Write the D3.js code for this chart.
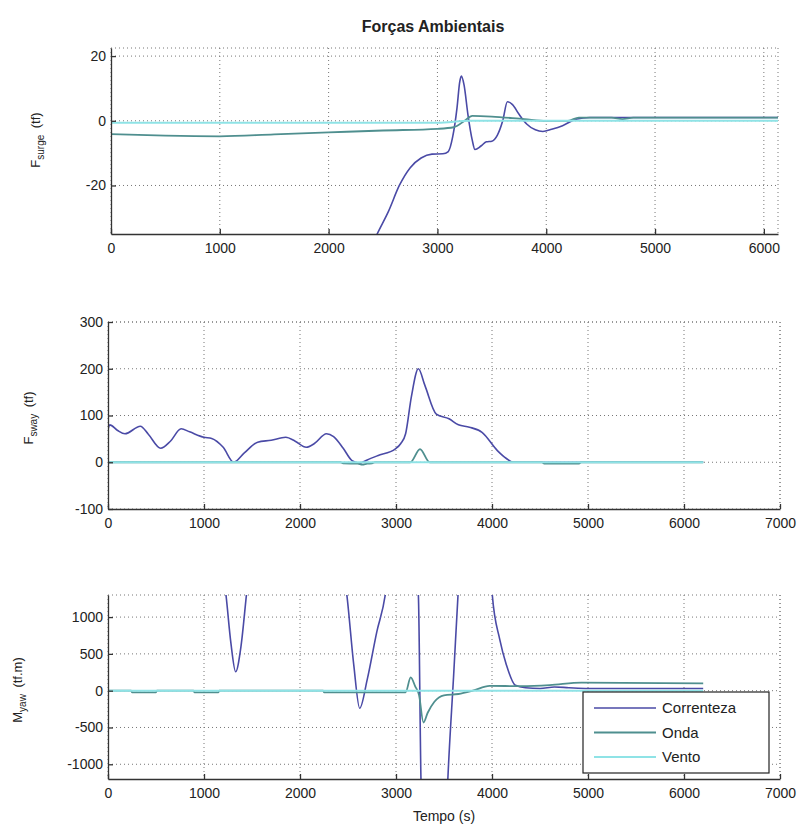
<!DOCTYPE html>
<html>
<head>
<meta charset="utf-8">
<script src="https://cdn.jsdelivr.net/npm/d3@7"></script>
<style>
  body { margin: 0; background: #fff; }
  text { font-family: "Liberation Sans", Arial, sans-serif; fill: #222; }
  .grid line { stroke: #777; stroke-width: 1; stroke-dasharray: 1,3; }
  .axis path, .axis line { stroke: #333; stroke-width: 1.3; }
  .axis text { font-size: 14px; fill: #222; }
  .lineCor { fill: none; stroke: #4a4aa6; stroke-width: 1.6; }
  .lineOnd { fill: none; stroke: #4f8f8f; stroke-width: 1.8; }
  .lineVen { fill: none; stroke: #8fe3e6; stroke-width: 2; }
</style>
</head>
<body>
<div id="graph"></div>
<script>

// Tempo (s) and values for each panel / series
var surgeCorT = [0, 1500, 2200, 2446, 2550, 2650, 2750, 2850, 2950, 3050, 3100, 3140, 3180, 3205, 3220, 3245, 3280, 3320, 3345, 3400, 3450, 3500, 3550, 3600, 3643, 3690, 3750, 3820, 3900, 3969, 4050, 4150, 4275, 4400, 6130];
var surgeCor  = [-120, -90, -55, -35, -28, -20, -14.5, -11.5, -10.3, -10.2, -9.5, -5, 4, 12, 13.8, 11, 2, -6, -8.9, -7.8, -6.5, -6.3, -4.5, 0, 5.9, 5, 2, -1, -2.8, -3.3, -2.6, -1.5, 0.5, 1, 1];

var surgeOndT = [0, 500, 1000, 1500, 2000, 2500, 3000, 3150, 3250, 3320, 3500, 3800, 4000, 4200, 4300, 4600, 4700, 4800, 6130];
var surgeOnd  = [-4.1, -4.6, -4.8, -4.2, -3.6, -3.0, -2.5, -2.0, 0, 1.5, 1.3, 0.5, 0, 0, 1, 1, 0.5, 1, 1];

var surgeVenT = [0, 3000, 3300, 6130];
var surgeVen  = [-0.6, -0.6, 0, 0];

var swayCorT = [0, 18, 100, 177, 337, 420, 549, 650, 762, 850, 1000, 1080, 1200, 1309, 1420, 1559, 1700, 1851, 1950, 2065, 2150, 2276, 2350, 2450, 2542, 2622, 2700, 2808, 2994, 3050, 3100, 3160, 3233, 3300, 3420, 3552, 3650, 3765, 3896, 4056, 4150, 4217, 6200];
var swayCor  = [70, 80, 68, 61, 77, 60, 30, 45, 71.5, 65, 53.5, 51, 32, 0, 20, 43, 47, 53.5, 45, 32, 40, 61, 55, 30, 3.6, -2, 5, 14, 28.6, 40, 61, 140, 200, 165, 103, 93, 80, 75, 64, 25, 8, 0, 0];

var swayOndT = [0, 2420, 2450, 2600, 2650, 2700, 2750, 2780, 3150, 3250, 3350, 4520, 4550, 4900, 4930, 6200];
var swayOnd  = [0, 0, -2.5, -3, -5, -3, -2.5, 0, 0, 28, 0, 0, -3, -3, 0, 0];

var swayVenT = [0, 6200];
var swayVen  = [0, 0];

var yawCorT = [0, 1000, 1150, 1229, 1280, 1330, 1385, 1442, 1500, 2400, 2488, 2560, 2622, 2700, 2800, 2888, 2950, 3150, 3233, 3260, 3300, 3500, 3540, 3600, 3646, 3700, 3950, 4003, 4080, 4150, 4243, 4349, 4500, 4650, 4800, 5000, 6200];
var yawCor  = [2500, 2400, 2000, 1300, 650, 258, 600, 1300, 2000, 2000, 1300, 350, -239, 150, 800, 1300, 2000, 2500, 1300, -1200, -2500, -2500, -1200, 200, 1300, 2500, 2500, 1300, 700, 350, 73, 40, 30, 50, 40, 30, 30];

var yawOndT = [0, 240, 250, 500, 510, 890, 900, 1150, 1160, 2240, 2250, 3100, 3153, 3200, 3240, 3286, 3330, 3400, 3499, 3650, 3800, 3975, 4300, 4600, 4933, 6200];
var yawOnd  = [0, 0, -22, -22, 0, 0, -22, -22, 0, 0, -22, -22, 180, 60, -60, -432, -300, -150, -64, -45, 0, 65, 62, 75, 110, 100];

var yawVenT = [0, 6200];
var yawVen  = [0, 0];

var xTicks1 = [0, 1000, 2000, 3000, 4000, 5000, 6000];
var xTicks23 = [0, 1000, 2000, 3000, 4000, 5000, 6000, 7000];
var yTicks1 = [-20, 0, 20];
var yTicks2 = [-100, 0, 100, 200, 300];
var yTicks3 = [-1000, -500, 0, 500, 1000];

var legendNames = ["Correnteza", "Onda", "Vento"];
var legendClass = ["lineCor", "lineOnd", "lineVen"];

function zip(t, v) {
    return t.map(function(d, i) { return {t: d, v: v[i]}; });
}

// matlab style labels, plain hyphen for minus
function fmt(d) { return String(d); }

var svg = d3.select("#graph").append("svg")
    .attr("width", 801)
    .attr("height", 829);

function drawPanel(p) {
    var xScale = d3.scaleLinear().domain(p.xDomain).range([p.left, p.right]);
    var yScale = d3.scaleLinear().domain(p.yDomain).range([p.bottom, p.top]);

    var g = svg.append("g");

    // grid (dotted)
    var grid = g.append("g").attr("class", "grid");
    grid.selectAll(".vx").data(p.xTicks).enter().append("line")
        .attr("x1", function(d) { return xScale(d); })
        .attr("x2", function(d) { return xScale(d); })
        .attr("y1", p.top).attr("y2", p.bottom);
    grid.selectAll(".hy").data(p.yTicks).enter().append("line")
        .attr("x1", p.left).attr("x2", p.right)
        .attr("y1", function(d) { return yScale(d); })
        .attr("y2", function(d) { return yScale(d); });
    // edges of the box are dotted too
    grid.append("line").attr("x1", p.left).attr("x2", p.right).attr("y1", p.top).attr("y2", p.top);
    grid.append("line").attr("x1", p.right).attr("x2", p.right).attr("y1", p.top).attr("y2", p.bottom);

    // clip so lines stay inside the axes
    svg.append("clipPath").attr("id", p.id + "clip")
        .append("rect")
        .attr("x", p.left).attr("y", p.top)
        .attr("width", p.right - p.left).attr("height", p.bottom - p.top);

    var line = d3.line()
        .x(function(d) { return xScale(d.t); })
        .y(function(d) { return yScale(d.v); })
        .curve(d3.curveMonotoneX);

    var lines = g.append("g").attr("clip-path", "url(#" + p.id + "clip)");
    p.series.forEach(function(s) {
        lines.append("path")
            .datum(s.data)
            .attr("class", s.cls)
            .attr("d", line);
    });

    // axes, ticks pointing inward
    g.append("g")
        .attr("class", "axis")
        .attr("transform", "translate(0," + p.bottom + ")")
        .call(d3.axisBottom(xScale).tickValues(p.xTicks).tickSize(-5).tickPadding(9).tickSizeOuter(0).tickFormat(fmt));

    g.append("g")
        .attr("class", "axis")
        .attr("transform", "translate(" + p.left + ",0)")
        .call(d3.axisLeft(yScale).tickValues(p.yTicks).tickSize(-5).tickPadding(5).tickSizeOuter(0).tickFormat(fmt));

    // y label with subscript
    var lab = svg.append("text")
        .attr("transform", "translate(" + p.labelX + "," + p.labelY + ") rotate(-90)")
        .attr("text-anchor", "middle")
        .style("font-size", "13px");
    lab.append("tspan").text(p.labelMain);
    lab.append("tspan").attr("dy", 4).style("font-size", "10px").text(p.labelSub);
    lab.append("tspan").attr("dy", -4).text("\u2002" + p.labelUnit);

    return {x: xScale, y: yScale};
}

drawPanel({
    id: "p1", left: 111, right: 778, top: 48, bottom: 234,
    xDomain: [0, 6130], yDomain: [-35, 22.5],
    xTicks: xTicks1, yTicks: yTicks1,
    labelX: 40, labelY: 140, labelMain: "F", labelSub: "surge", labelUnit: "(tf)",
    series: [
        {cls: "lineCor", data: zip(surgeCorT, surgeCor)},
        {cls: "lineOnd", data: zip(surgeOndT, surgeOnd)},
        {cls: "lineVen", data: zip(surgeVenT, surgeVen)}
    ]
});

drawPanel({
    id: "p2", left: 108, right: 780, top: 322, bottom: 509,
    xDomain: [0, 7000], yDomain: [-100, 300],
    xTicks: xTicks23, yTicks: yTicks2,
    labelX: 33, labelY: 418, labelMain: "F", labelSub: "sway", labelUnit: "(tf)",
    series: [
        {cls: "lineCor", data: zip(swayCorT, swayCor)},
        {cls: "lineOnd", data: zip(swayOndT, swayOnd)},
        {cls: "lineVen", data: zip(swayVenT, swayVen)}
    ]
});

drawPanel({
    id: "p3", left: 108, right: 780, top: 595, bottom: 779,
    xDomain: [0, 7000], yDomain: [-1200, 1300],
    xTicks: xTicks23, yTicks: yTicks3,
    labelX: 22, labelY: 690, labelMain: "M", labelSub: "yaw", labelUnit: "(tf.m)",
    series: [
        {cls: "lineCor", data: zip(yawCorT, yawCor)},
        {cls: "lineOnd", data: zip(yawOndT, yawOnd)},
        {cls: "lineVen", data: zip(yawVenT, yawVen)}
    ]
});

// title and x label
svg.append("text")
    .attr("x", 433).attr("y", 32)
    .attr("text-anchor", "middle")
    .style("font-size", "16px").style("font-weight", "bold")
    .text("Forças Ambientais");

svg.append("text")
    .attr("x", 444).attr("y", 821)
    .attr("text-anchor", "middle")
    .style("font-size", "14px")
    .text("Tempo (s)");

// legend
var leg = svg.append("g").attr("transform", "translate(583,692)");
leg.append("rect")
    .attr("width", 186).attr("height", 81)
    .attr("fill", "#fff").attr("stroke", "#222").attr("stroke-width", 1.2);
legendNames.forEach(function(name, i) {
    var yy = 16 + i * 24.5;
    leg.append("line")
        .attr("class", legendClass[i])
        .attr("x1", 11).attr("x2", 73)
        .attr("y1", yy).attr("y2", yy);
    leg.append("text")
        .attr("x", 79).attr("y", yy + 5)
        .style("font-size", "15px")
        .text(name);
});

</script>
</body>
</html>
